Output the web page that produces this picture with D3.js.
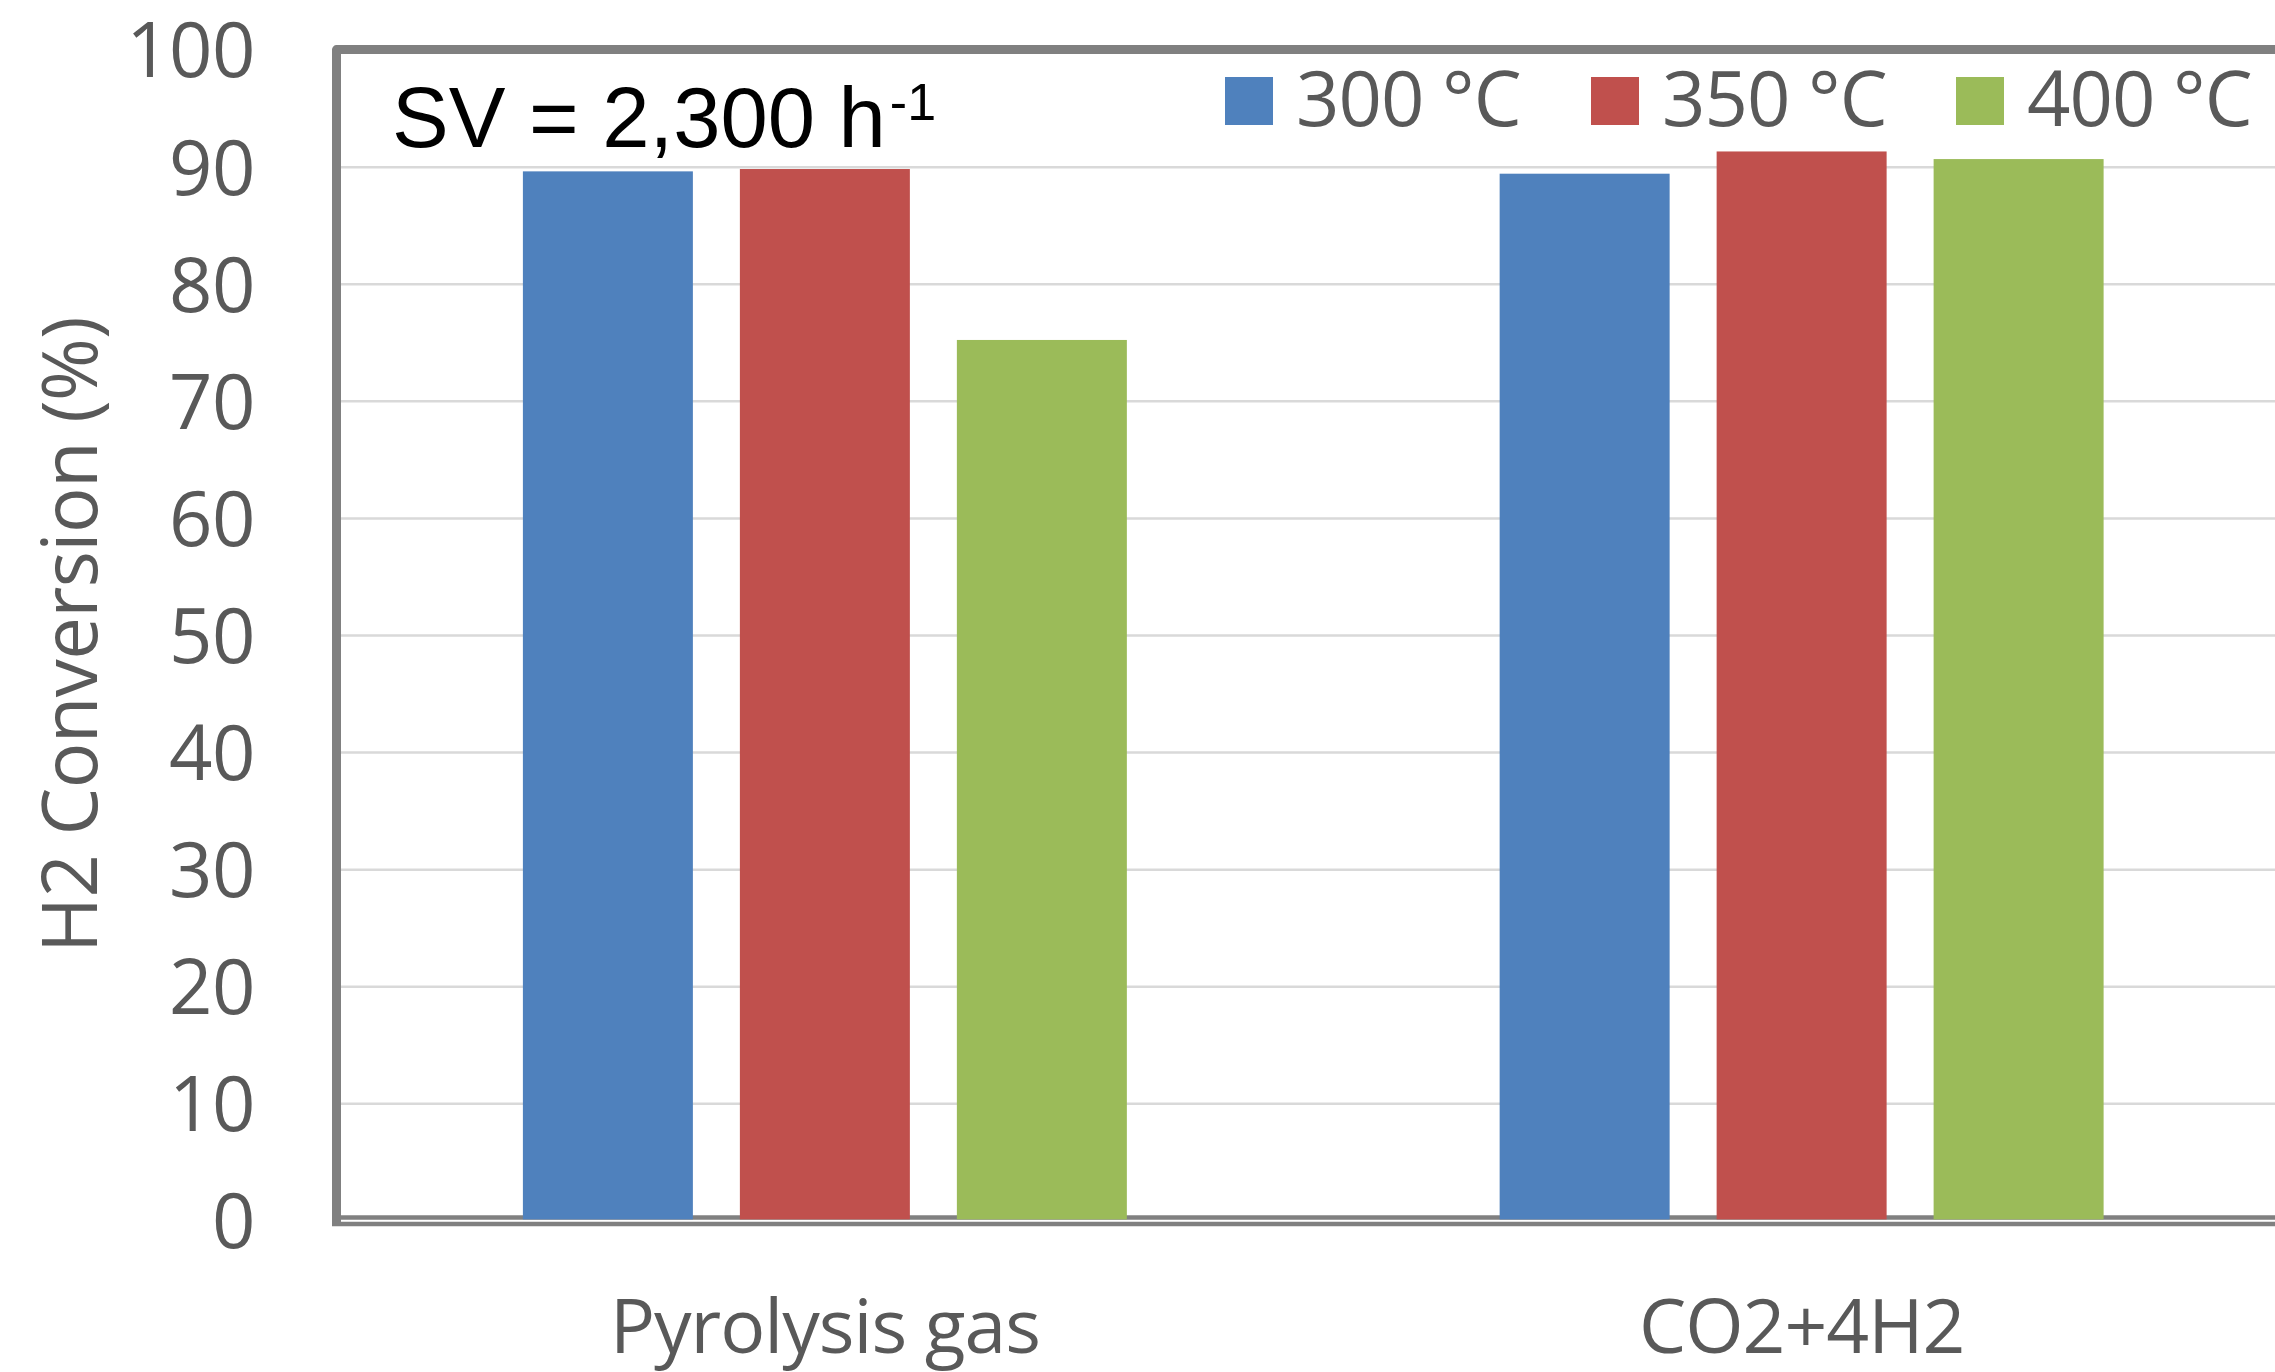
<!DOCTYPE html>
<html>
<head>
<meta charset="utf-8">
<script src="https://cdn.jsdelivr.net/npm/d3@7"></script>
<style>
  html, body { margin: 0; padding: 0; background: #fff; overflow: hidden; }
  svg { display: block; }
</style>
</head>
<body>
<svg id="chart" width="2275" height="1372"></svg>
<script>
// ---- data ----
const categories = ["Pyrolysis gas", "CO2+4H2"];
const seriesNames = ["300 °C", "350 °C", "400 °C"];
const series300 = [89.6, 89.4];
const series350 = [89.8, 91.3];
const series400 = [75.2, 90.65];
const yTicks = [0, 10, 20, 30, 40, 50, 60, 70, 80, 90, 100];
const yTitle = "H2 Conversion (%)";
const annotation = "SV = 2,300 h";
const annotationSup = "-1";

const colors = ["#4F81BD", "#C0504D", "#9BBB59"];
const seriesValues = [series300, series350, series400];

// ---- layout ----
const W = 2275, H = 1372;
const plot = { left: 336.5, right: 2290, top: 49.6, bottom: 1220.4 };
const svg = d3.select("#chart");
const textColor = "#595959";
const uiFont = "'Open Sans', 'Noto Sans', sans-serif";

const y = d3.scaleLinear().domain([0, 100]).range([plot.bottom, plot.top]);
const x0 = d3.scaleBand().domain(categories).range([plot.left, plot.right]).paddingInner(0).paddingOuter(0);
const x1 = d3.scaleBand().domain(seriesNames).range([0, x0.bandwidth()]).paddingInner(0.2166).paddingOuter(0.859);

// gridlines
const grid = svg.append("g")
  .attr("transform", `translate(${plot.left},0)`)
  .call(d3.axisLeft(y).tickValues(yTicks.filter(d => d > 0 && d < 100)).tickSize(-(plot.right - plot.left)).tickFormat(""));
grid.select(".domain").remove();
grid.selectAll("line").attr("stroke", "#D9D9D9").attr("stroke-width", 2.5);

// axis line at zero (under bars)
svg.append("line")
  .attr("x1", plot.left).attr("x2", plot.right)
  .attr("y1", y(0) - 3).attr("y2", y(0) - 3)
  .attr("stroke", "#808080").attr("stroke-width", 4.5);

// bottom frame line
svg.append("line")
  .attr("x1", plot.left - 4.5).attr("x2", plot.right)
  .attr("y1", y(0) + 3.5).attr("y2", y(0) + 3.5)
  .attr("stroke", "#808080").attr("stroke-width", 4.5);

// top & left frame
svg.append("path")
  .attr("d", `M${plot.left},${y(0) + 3} L${plot.left},${plot.top} L${plot.right},${plot.top}`)
  .attr("fill", "none").attr("stroke", "#808080").attr("stroke-width", 9)
  .attr("stroke-linejoin", "round");

// bars
const groups = svg.append("g").selectAll("g")
  .data(categories)
  .join("g")
  .attr("transform", d => `translate(${x0(d)},0)`);

groups.selectAll("rect")
  .data((c, ci) => seriesNames.map((s, si) => ({ s, si, v: seriesValues[si][ci] })))
  .join("rect")
  .attr("x", d => x1(d.s))
  .attr("width", x1.bandwidth())
  .attr("y", d => y(d.v))
  .attr("height", d => y(0) - 1 - y(d.v))
  .attr("fill", d => colors[d.si]);

// y axis tick labels
const yAxis = svg.append("g")
  .attr("transform", `translate(${plot.left},0)`)
  .call(d3.axisLeft(y).tickValues(yTicks).tickSize(0).tickPadding(81.5).tickFormat(d3.format("d")));
yAxis.select(".domain").remove();
yAxis.selectAll("text")
  .attr("fill", textColor)
  .attr("font-family", uiFont)
  .attr("font-size", 76)
  .attr("letter-spacing", -0.5)
  .attr("dy", "0.36em");

// x axis category labels
const xAxis = svg.append("g")
  .attr("transform", `translate(0,${plot.bottom})`)
  .call(d3.axisBottom(x0).tickSize(0).tickPadding(0));
xAxis.select(".domain").remove();
xAxis.selectAll("text")
  .attr("fill", textColor)
  .attr("font-family", uiFont)
  .attr("font-size", 75)
  .attr("letter-spacing", -1)
  .attr("dy", null)
  .attr("y", 1353 - plot.bottom);

// y title
svg.append("text")
  .attr("transform", `translate(97,${(plot.top + plot.bottom) / 2}) rotate(-90)`)
  .attr("text-anchor", "middle")
  .attr("fill", textColor)
  .attr("font-family", uiFont)
  .attr("font-size", 76)
  .attr("letter-spacing", -0.6)
  .text(yTitle);

// annotation
const ann = svg.append("text")
  .attr("x", 392).attr("y", 147)
  .attr("fill", "#000")
  .attr("font-family", "'Liberation Sans', Arial, sans-serif")
  .attr("font-size", 85);
ann.append("tspan").text(annotation);
ann.append("tspan").attr("font-size", 52).attr("dx", 4).attr("dy", -27).text(annotationSup);

// legend
const legendX = [1225, 1591, 1956];
const legend = svg.append("g").selectAll("g")
  .data(seriesNames)
  .join("g")
  .attr("transform", (d, i) => `translate(${legendX[i]},77)`);
legend.append("rect")
  .attr("width", 48).attr("height", 48)
  .attr("fill", (d, i) => colors[i]);
legend.append("text")
  .attr("x", 71).attr("y", 49)
  .attr("fill", textColor)
  .attr("font-family", uiFont)
  .attr("font-size", 76)
  .attr("letter-spacing", -1)
  .text(d => d);
</script>
</body>
</html>
